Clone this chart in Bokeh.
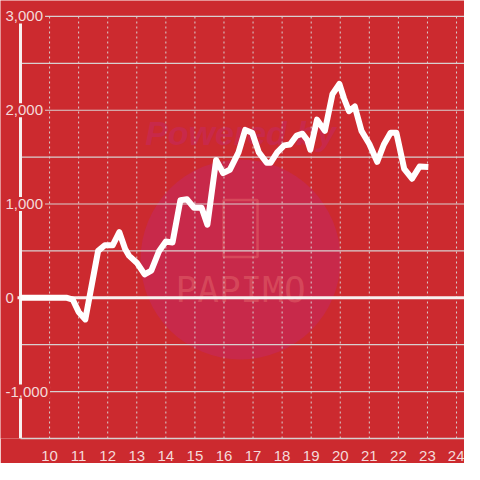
from bokeh.plotting import figure
from bokeh.models import ColumnDataSource, FixedTicker, Range1d
from bokeh.core.properties import value
from bokeh.embed import file_html
from bokeh.resources import INLINE

# ---- data ----
HOURS = list(range(10, 25))
Y_GRID = [-1000, -500, 500, 1000, 1500, 2000, 2500, 3000]
Y_LABEL_TICKS = [-1000, 0, 1000, 2000, 3000]
TIME = [9.0, 10.6, 10.8, 11.0, 11.23, 11.67, 11.9, 12.17, 12.4, 12.6, 12.73,
        13.0, 13.27, 13.5, 13.77, 14.0, 14.23, 14.5, 14.73, 14.97, 15.23,
        15.43, 15.73, 15.97, 16.2, 16.5, 16.73, 16.97, 17.2, 17.47, 17.6,
        17.83, 18.07, 18.27, 18.5, 18.7, 18.87, 18.97, 19.2, 19.47, 19.73,
        19.97, 20.13, 20.3, 20.5, 20.73, 21.0, 21.27, 21.5, 21.73, 21.93,
        22.2, 22.47, 22.73, 23.03]
VALUE = [0, 0, -20, -150, -230, 500, 560, 560, 700, 520, 450,
         375, 250, 290, 500, 600, 590, 1040, 1050, 960, 960,
         780, 1470, 1330, 1365, 1550, 1790, 1760, 1550, 1440, 1440,
         1550, 1625, 1635, 1730, 1750, 1680, 1580, 1900, 1780, 2170,
         2280, 2125, 1990, 2040, 1780, 1640, 1450, 1635, 1760, 1760,
         1375, 1270, 1400, 1395]

BG = "#cc2a2f"
LABEL_COLOR = "#f4dada"
GRID_COLOR = "#d8d0d0"
FONT = "Liberation Sans"
X_START, X_AXIS, X_END = 8.312, 9.0, 24.274
Y_START, Y_TOP, Y_END = -1500, 3000, 3170

p = figure(frame_width=464, frame_height=438, output_backend="svg",
           toolbar_location=None,
           x_range=Range1d(X_START, X_END), y_range=Range1d(Y_START, Y_END),
           min_border_left=0, min_border_right=0, min_border_top=0,
           min_border_bottom=0)
p.background_fill_color = BG
p.border_fill_color = BG
p.outline_line_color = None
p.grid.visible = False
p.yaxis.visible = False

xa = p.xaxis[0]
xa.ticker = FixedTicker(ticks=HOURS)
xa.bounds = (X_AXIS, X_END)
xa.axis_line_color = GRID_COLOR
xa.axis_line_width = 1.5
xa.major_tick_line_color = None
xa.minor_tick_line_color = None
xa.major_label_standoff = 6
xa.major_label_text_color = LABEL_COLOR
xa.major_label_text_font = FONT
xa.major_label_text_font_size = "15px"

# watermark
wm_x = 16.57
p.scatter(x=[wm_x], y=[409], size=200, fill_color="#c8294a", line_color=None)
p.text(x=[wm_x], y=[1752], text=["Powered by"], text_font=value(FONT),
       text_font_style="bold italic", text_font_size="34px", text_color="#c8294a",
       text_align="center", text_baseline="middle")
p.rect(x=[wm_x], y=[739], width=34, height=57, width_units="screen",
       height_units="screen", fill_color=None, line_color="#d9505f",
       line_width=2.5, line_alpha=0.8)
p.text(x=[wm_x], y=[89], text=["PAPIMO"], text_font=value("DejaVu Sans Mono"),
       text_font_size="36px", text_color="#d9505f", text_alpha=0.8,
       text_align="center", text_baseline="middle")

# grid lines
p.segment(x0=HOURS, y0=[Y_START] * len(HOURS), x1=HOURS, y1=[Y_TOP] * len(HOURS),
          line_color=GRID_COLOR, line_width=1, line_dash="2 3")
p.segment(x0=[X_AXIS] * len(Y_GRID), y0=Y_GRID, x1=[X_END] * len(Y_GRID), y1=Y_GRID,
          line_color=GRID_COLOR, line_width=1.2)
# zero line and y axis line
p.segment(x0=[8.897], y0=[0], x1=[X_END], y1=[0], line_color="#f8f0f0", line_width=3)
p.segment(x0=[X_AXIS], y0=[Y_START], x1=[X_AXIS], y1=[Y_TOP],
          line_color="#f8f0f0", line_width=3)

# y labels
p.text(x=[X_START] * len(Y_LABEL_TICKS), y=Y_LABEL_TICKS,
       text=[f"{v:,}" for v in Y_LABEL_TICKS], text_font=value(FONT),
       text_font_size="15px", text_color=LABEL_COLOR, text_align="left",
       text_baseline="middle", x_offset=3, background_fill_color=BG, padding=2)

# data line
src = ColumnDataSource(dict(t=TIME, v=VALUE))
p.line("t", "v", source=src, line_color="#ffffff", line_width=6, line_join="round")

open("out.html", "w").write(file_html(p, INLINE))
